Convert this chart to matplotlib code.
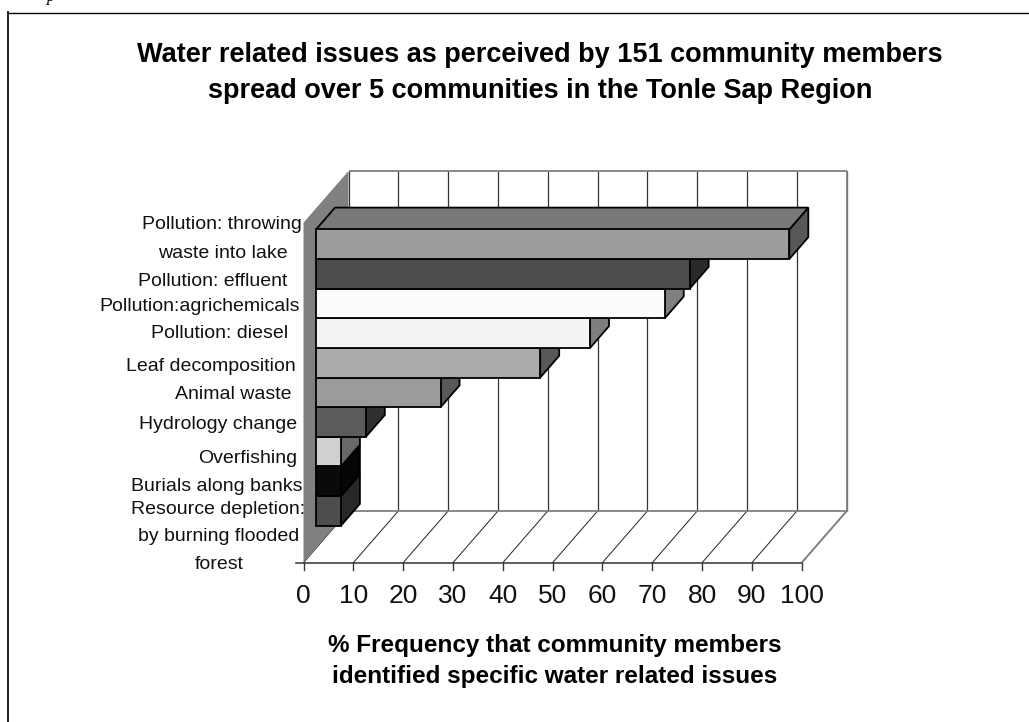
import matplotlib
matplotlib.use("Agg")
import matplotlib.pyplot as plt
from matplotlib.lines import Line2D
from matplotlib.patches import Polygon
from matplotlib.transforms import Affine2D

plt.rcParams["font.family"] = ["Liberation Sans", "DejaVu Sans"]

# bars listed top to bottom
issues = ["Pollution: throwing waste into lake", "Pollution: effluent",
          "Pollution:agrichemicals", "Pollution: diesel", "Leaf decomposition",
          "Animal waste", "Hydrology change", "Overfishing", "Burials along banks",
          "Resource depletion: by burning flooded forest"]
frequency = [95, 75, 70, 55, 45, 25, 10, 5, 5, 5]
front_grey = ["#9c9c9c", "#4d4d4d", "#fcfcfc", "#f3f3f3", "#aaaaaa",
              "#9b9b9b", "#5b5b5b", "#d0d0d0", "#0a0a0a", "#4d4d4d"]
side_grey = ["#585858", "#2a2a2a", "#808080", "#7e7e7e", "#585858",
             "#585858", "#303030", "#686868", "#050505", "#282828"]
top_grey = "#787878"

x_ticks = [0, 10, 20, 30, 40, 50, 60, 70, 80, 90, 100]

# axis labels are wrapped by hand and sit unevenly, so each line gets its own spot
label_lines = ["Pollution: throwing", "waste into lake", "Pollution: effluent",
               "Pollution:agrichemicals", "Pollution: diesel", "Leaf decomposition",
               "Animal waste", "Hydrology change", "Overfishing", "Burials along banks",
               "Resource depletion:", "by burning flooded", "forest"]
label_x = [222, 223, 213, 199.5, 220, 211, 233, 218.5, 248, 216.5, 218.5, 218.5, 219.5]
label_y = [229, 258, 286, 311, 338, 371, 399, 429, 463, 491, 514, 541, 569]

title_lines = ["Water related issues as perceived by 151 community members",
               "spread over 5 communities in the Tonle Sap Region"]
xlabel_lines = ["% Frequency that community members",
                "identified specific water related issues"]

W, H = 1029, 722
fig = plt.figure(figsize=(W / 100, H / 100), dpi=100)
px = Affine2D().scale(1, -1).translate(0, H)  # top-left pixel coordinates

# front plane of the plot box; one y unit is one bar height
left, right, floor, wall_top = 303.5, 801.7, 562.7, 222.7
bar_px = 29.63
wall_h = (floor - wall_top) / bar_px
ax = fig.add_axes([left / W, 1 - floor / H, (right - left) / W, (floor - wall_top) / H])
ax.set_xlim(0, 100)
ax.set_ylim(0, wall_h)
ax.axis("off")

# oblique projection: depth d runs 0 (front) to 1 (back wall)
depth_x = 45 / ((right - left) / 100)
depth_y = 51.7 / bar_px


def proj(v, h, d):
    return (v + d * depth_x, h + d * depth_y)


def face(points, **kw):
    ax.add_patch(Polygon([proj(*p) for p in points], closed=True, clip_on=False, **kw))


def line3d(p, q, color, lw):
    a, b = proj(*p), proj(*q)
    ax.plot([a[0], b[0]], [a[1], b[1]], color=color, lw=lw, clip_on=False,
            solid_capstyle="butt", zorder=1)


# walls and floor
face([(0, 0, 1), (100, 0, 1), (100, wall_h, 1), (0, wall_h, 1)], fc="white", ec="none", zorder=0)
face([(0, 0, 0), (0, 0, 1), (0, wall_h, 1), (0, wall_h, 0)], fc="#808080", ec="none", zorder=2)
for v in x_ticks:
    line3d((v, 0, 1), (v, wall_h, 1), "#333333", 0.9)
    line3d((v, 0, 0), (v, 0, 1), "#222222", 0.7)
line3d((0, wall_h, 1), (100, wall_h, 1), "#808080", 1.3)
line3d((100, 0, 1), (100, wall_h, 1), "#808080", 1.3)
line3d((0, 0, 1), (100, 0, 1), "#808080", 1.3)
line3d((100, 0, 0), (100, 0, 1), "#808080", 1.3)
line3d((0, 0, 0), (100, 0, 0), "#333333", 1.1)
ax.plot([-1.5, 0], [0, 0], color="#333333", lw=1.1, clip_on=False)
tick_len = 7 / bar_px
for v in x_ticks:
    ax.plot([v, v], [0, -tick_len], color="#333333", lw=1.0, clip_on=False)
    ax.text(v, -40.5 / bar_px, str(v), ha="center", va="baseline", fontsize=19, color="#111111")

# bars, bottom first so each one hides the top face of the bar beneath it
d0, d1 = 12.5 / 45, 31.5 / 45
base = 0.763
for i in reversed(range(len(issues))):
    v = frequency[i]
    lo = base + (len(issues) - 1 - i)
    hi = lo + 1
    kw = dict(ec="black", lw=1.3, joinstyle="miter", zorder=3)
    face([(v, lo, d0), (v, hi, d0), (v, hi, d1), (v, lo, d1)], fc=side_grey[i], **kw)
    if i == 0:
        face([(0, hi, d0), (v, hi, d0), (v, hi, d1), (0, hi, d1)], fc=top_grey, **kw)
    face([(0, lo, d0), (v, lo, d0), (v, hi, d0), (0, hi, d0)], fc=front_grey[i], **kw)

for s, x, y in zip(label_lines, label_x, label_y):
    fig.text(x, y, s, transform=px, ha="center", va="baseline", fontsize=14, color="#111111")

for s, y in zip(title_lines, [62, 98]):
    fig.text(540, y, s, transform=px, ha="center", va="baseline", fontsize=19.5,
             fontweight="bold", color="black")
for s, y in zip(xlabel_lines, [652, 683]):
    fig.text(554.5, y, s, transform=px, ha="center", va="baseline", fontsize=17.5,
             fontweight="bold", color="black")

# only the top and left rules of the surrounding box are on the page
fig.add_artist(Line2D([8, 1029], [12.5, 12.5], transform=px, color="black", lw=1.0))
fig.add_artist(Line2D([8, 8], [12, 722], transform=px, color="#222222", lw=1.4))
fig.text(51, 1, "p", transform=px, ha="center", va="baseline", fontsize=12,
         fontstyle="italic", family="Liberation Serif", color="black")

fig.savefig("out.png", dpi=100)
